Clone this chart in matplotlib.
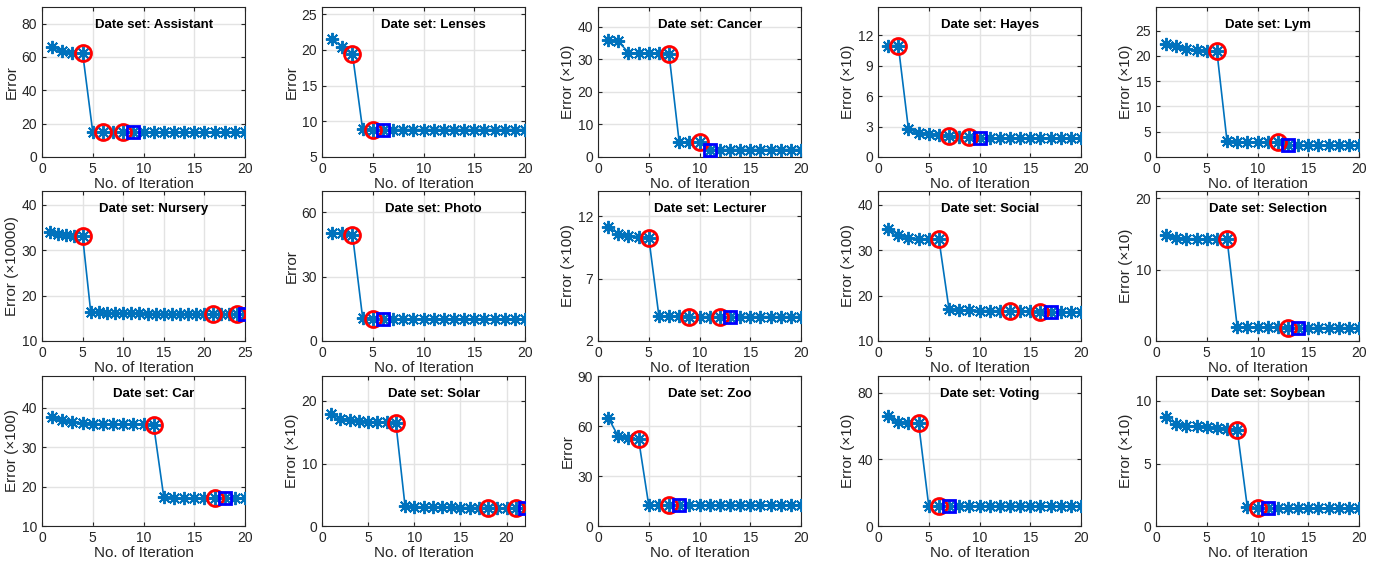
import numpy as np
import matplotlib
matplotlib.use('Agg')
import matplotlib.pyplot as plt

plt.rcParams['font.family'] = ['Liberation Sans', 'DejaVu Sans']

# 数据
names = ['Assistant', 'Lenses', 'Cancer', 'Hayes', 'Lym',
         'Nursery', 'Photo', 'Lecturer', 'Social', 'Selection',
         'Car', 'Solar', 'Zoo', 'Voting', 'Soybean']

assistant = [66, 63.5, 62.5, 62.5] + [15, 14.9] + [14.8] * 14
lenses = [21.5, 20.4, 19.4, 8.9] + [8.85] * 16
cancer = [36, 35.5, 32, 31.8, 31.8, 31.8, 31.5, 4.5, 4.5, 4.5] + [2.3] * 10
hayes = [11.0, 11.0, 2.75, 2.35, 2.3, 2.15, 2.1, 2.0, 1.95, 1.9] + [1.88] * 10
lym = [22.4, 21.9, 21.4, 21.1, 21.0, 20.9, 3.1, 3.0, 3.0, 3.0, 3.0, 3.0] + [2.3] * 8
nursery = [34.0, 33.6, 33.4, 33.2, 33.0, 16.4, 16.3, 16.25, 16.2, 16.15,
           16.1, 16.1, 16.05, 16.0, 16.0, 16.0, 15.95, 15.95, 15.9, 15.9,
           15.9, 15.9, 15.9, 15.85, 15.85]
photo = [50.5, 50.2, 49.7, 10.9, 10.5, 10.3, 10.2] + [10.1] * 13
lecturer = [11.15, 10.6, 10.4, 10.35, 10.27, 4.0, 3.98, 3.97] + [3.95] * 12
social = [34.7, 33.4, 32.75, 32.5, 32.5, 32.4, 16.95, 16.8, 16.75, 16.7,
          16.7, 16.65, 16.6, 16.55, 16.5, 16.45, 16.45, 16.4, 16.4, 16.4]
selection = [14.8, 14.4, 14.35, 14.3, 14.3, 14.3, 14.25, 2.0, 1.95, 1.9,
             1.9, 1.9] + [1.87] * 8
car = [37.6, 36.8, 36.3, 36.1, 35.9, 35.9, 35.85, 35.8, 35.8, 35.75, 35.5,
       17.3] + [17.1] * 8
solar = [18.0, 17.1, 17.0, 16.85, 16.7, 16.65, 16.6, 16.5, 3.2, 3.1, 3.05,
         3.0, 3.0, 3.0, 2.95, 2.95, 2.95, 2.95, 2.9, 2.9, 2.9, 2.9]
zoo = [65, 53.8, 52.8, 52] + [12.4] * 16
voting = [66, 62.2, 62.0, 61.6] + [12] * 16
soybean = [8.7, 8.2, 8.0, 8.0, 7.9, 7.85, 7.8, 7.7, 1.5] + [1.45] * 11

series = [assistant, lenses, cancer, hayes, lym, nursery, photo, lecturer,
          social, selection, car, solar, zoo, voting, soybean]

# iterations marked with red circles / blue squares
circles = [[4, 6, 8], [3, 5], [7, 10], [2, 7, 9], [6, 12],
           [5, 21, 24], [3, 5], [5, 9, 12], [6, 13, 16], [7, 13],
           [11, 17], [8, 18, 21], [4, 7], [4, 6], [8, 10]]
squares = [9, 6, 11, 10, 13, 25, 6, 13, 17, 14, 18, 22, 8, 7, 11]

ylabels = ['Error', 'Error', 'Error (×10)', 'Error (×10)', 'Error (×10)',
           'Error (×10000)', 'Error', 'Error (×100)', 'Error (×100)', 'Error (×10)',
           'Error (×100)', 'Error (×10)', 'Error', 'Error (×10)', 'Error (×10)']
ylims = [(0, 90), (5, 26), (0, 46), (0, 14.8), (0, 29.7),
         (10, 43), (0, 70), (2, 14), (10, 43), (0, 21),
         (10, 48), (0, 24), (0, 90), (0, 90), (0, 12)]
yticks = [[0, 20, 40, 60, 80], [5, 10, 15, 20, 25], [0, 10, 20, 30, 40],
          [0, 3, 6, 9, 12], [0, 5, 10, 15, 20, 25],
          [10, 20, 30, 40], [0, 30, 60], [2, 7, 12], [10, 20, 30, 40], [0, 10, 20],
          [10, 20, 30, 40], [0, 10, 20], [0, 30, 60, 90], [0, 40, 80], [0, 5, 10]]

W, H = 1380, 565
col_x = [42, 322, 598, 878, 1156]
row_y = [7, 191, 376]
aw, ah = 203, 150

fig = plt.figure(figsize=(13.8, 5.65), dpi=100)
for k in range(15):
    r, c = k // 5, k % 5
    ax = fig.add_axes([col_x[c] / W, 1 - (row_y[r] + ah) / H, aw / W, ah / H])
    y = np.array(series[k])
    x = np.arange(1, len(y) + 1)
    ax.plot(x, y, '-', color='#0072BD', lw=1.2, zorder=3)
    ax.plot(x, y, ls='none', marker=(8, 2, 0), color='#0072BD', ms=9.5, mew=1.4, zorder=3)
    ci = np.array(circles[k])
    ax.plot(ci, y[ci - 1], 'o', mfc='none', mec='red', ms=11.5, mew=2, zorder=4)
    s = squares[k]
    ax.plot([s], [y[s - 1]], 's', mfc='none', mec='blue', ms=8.5, mew=2, zorder=4)
    ax.set_xlim(0, len(y))
    ax.set_xticks(np.arange(0, len(y) + 1, 5))
    ax.set_ylim(*ylims[k])
    ax.set_yticks(yticks[k])
    ax.grid(True, color='#e3e3e3', lw=1)
    ax.set_axisbelow(True)
    ax.tick_params(direction='in', top=True, right=True, labelsize=10,
                   colors='#262626', length=3)
    for sp in ax.spines.values():
        sp.set_color('#262626')
    ax.text(0.55, 0.88, 'Date set: ' + names[k], transform=ax.transAxes,
            ha='center', va='center', fontsize=9.5, fontweight='bold')
    ax.set_xlabel('No. of Iteration', fontsize=11, labelpad=1, color='#262626')
    ax.set_ylabel(ylabels[k], fontsize=11, labelpad=2, color='#262626')

plt.savefig('out.png')
